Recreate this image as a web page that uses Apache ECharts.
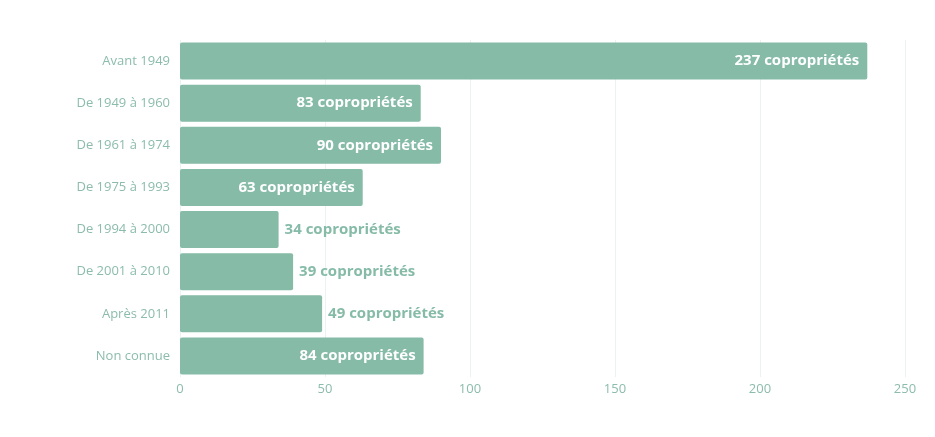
<!DOCTYPE html>
<html>
<head>
<meta charset="utf-8">
<script src="https://cdn.jsdelivr.net/npm/echarts@6/dist/echarts.min.js"></script>
<style>
  html, body { margin: 0; padding: 0; background: #fff; }
  #main { width: 935px; height: 437px; }
</style>
</head>
<body>
<div id="main"></div>
<script>
const categories = [
  "Avant 1949",
  "De 1949 à 1960",
  "De 1961 à 1974",
  "De 1975 à 1993",
  "De 1994 à 2000",
  "De 2001 à 2010",
  "Après 2011",
  "Non connue"
];
const values = [237, 83, 90, 63, 34, 39, 49, 84];
const outsideLabel = [false, false, false, false, true, true, true, false];
const unit = "copropriétés";

const GREEN = "#85bba7";

const seriesData = values.map(function (v, i) {
  const outside = outsideLabel[i];
  return {
    value: v,
    label: {
      position: outside ? "right" : "insideRight",
      distance: outside ? 6 : 8,
      color: outside ? GREEN : "#ffffff"
    }
  };
});

const myChart = echarts.init(document.getElementById("main"));
myChart.setOption({
  animation: false,
  grid: { left: 180, right: 30, top: 40, bottom: 60, containLabel: false },
  xAxis: {
    type: "value",
    min: 0,
    max: 250,
    interval: 50,
    axisLine: { show: false },
    axisTick: { show: false },
    axisLabel: { color: "#8cbcab", fontSize: 13, fontFamily: "Open Sans", margin: 6 },
    splitLine: { lineStyle: { color: "#eaf3f0", width: 1 } }
  },
  yAxis: {
    type: "category",
    inverse: true,
    data: categories,
    axisLine: { show: false },
    axisTick: { show: false },
    axisLabel: { color: "#8cbcab", fontSize: 13, fontFamily: "Open Sans", margin: 10 }
  },
  series: [{
    type: "bar",
    data: seriesData,
    barWidth: 37,
    itemStyle: { color: GREEN, borderRadius: 2 },
    label: {
      show: true,
      fontFamily: "Open Sans",
      fontWeight: "bold",
      fontSize: 15,
      formatter: function (p) { return p.value + " " + unit; }
    }
  }]
});
</script>
</body>
</html>
